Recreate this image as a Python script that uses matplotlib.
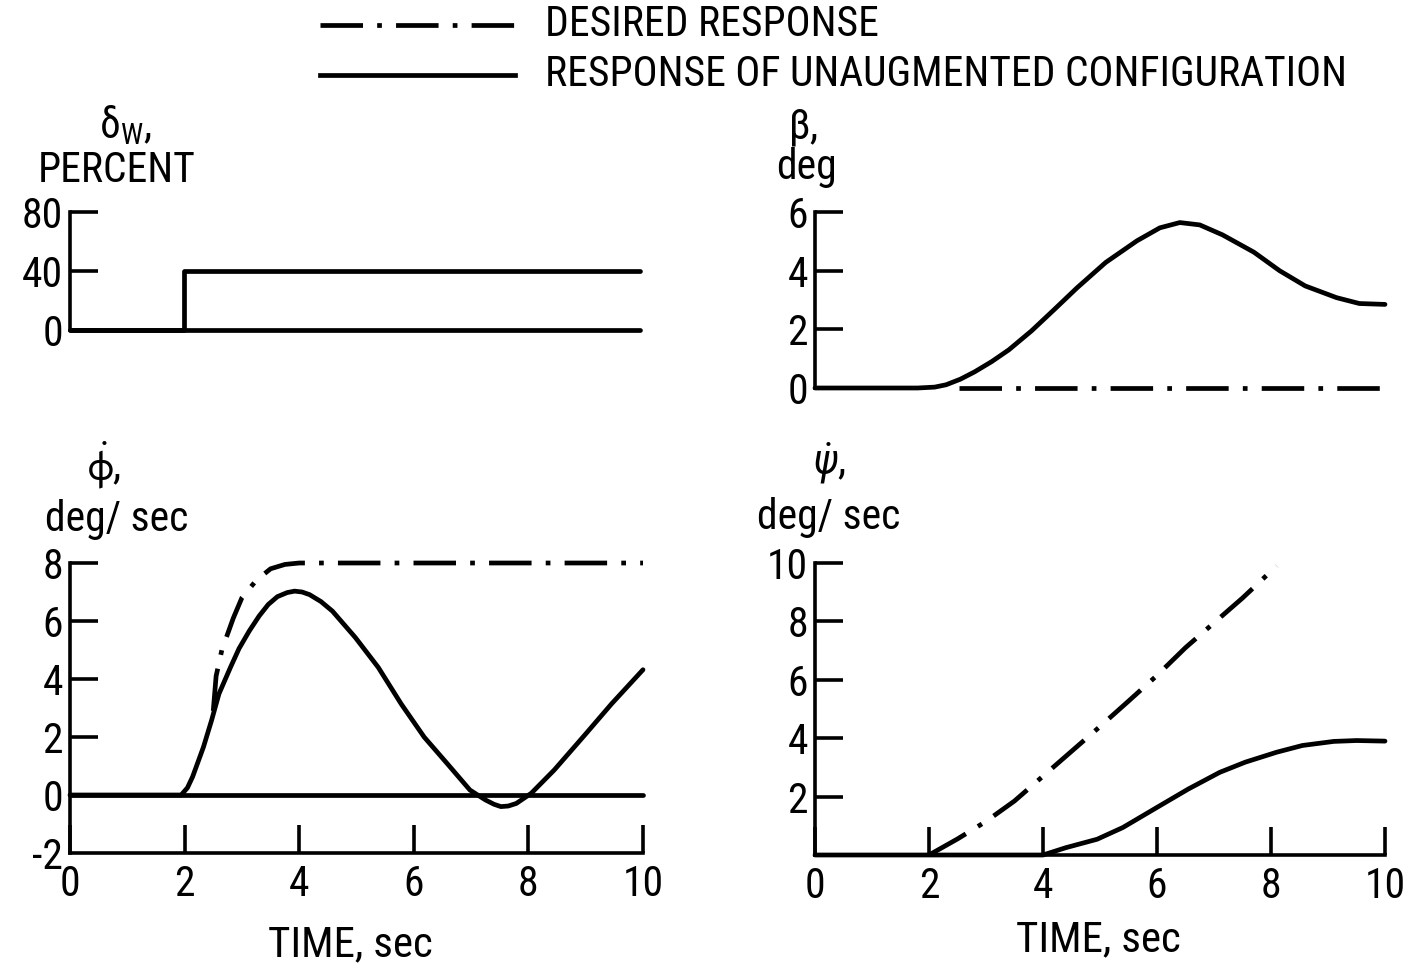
import matplotlib
matplotlib.use("Agg")
import matplotlib.pyplot as plt
from matplotlib.lines import Line2D

plt.rcParams["font.family"] = ["Roboto Condensed", "DejaVu Sans"]
plt.rcParams["mathtext.fontset"] = "custom"
plt.rcParams["mathtext.rm"] = "Roboto Condensed"
plt.rcParams["mathtext.it"] = "Roboto Condensed:italic"
plt.rcParams["mathtext.fallback"] = "stixsans"
plt.rcParams["axes.unicode_minus"] = False

# ---------------------------------------------------------------------
#  Time histories (time in sec)
# ---------------------------------------------------------------------

# wheel deflection, percent
t_dw = [0.0, 2.0, 2.0, 10.0]
dw = [0.0, 0.0, 40.0, 40.0]

# sideslip, deg
t_beta = [0.0, 1.8, 2.1, 2.3, 2.55, 2.8, 3.1, 3.4, 3.8, 4.2, 4.6, 5.1, 5.65,
          6.05, 6.4, 6.75, 7.15, 7.7, 8.15, 8.6, 9.15, 9.55, 10.0]
beta = [0.0, 0.0, 0.03, 0.11, 0.3, 0.55, 0.9, 1.3, 1.95, 2.68, 3.42, 4.28,
        5.02, 5.46, 5.64, 5.56, 5.22, 4.63, 4.0, 3.48, 3.08, 2.88, 2.85]
t_beta_des = [2.52, 10.0]
beta_des = [0.0, 0.0]

# roll rate, deg/sec
t_p = [0.0, 1.94, 2.05, 2.14, 2.33, 2.47, 2.6, 2.8, 2.95, 3.13, 3.3, 3.46,
       3.62, 3.79, 3.92, 4.05, 4.18, 4.38, 4.58, 4.98, 5.38, 5.78, 6.18,
       6.58, 6.98, 7.25, 7.4, 7.52, 7.65, 7.79, 8.05, 8.45, 8.98, 9.45, 10.0]
p = [0.0, 0.0, 0.25, 0.63, 1.66, 2.57, 3.49, 4.4, 5.05, 5.66, 6.17, 6.57,
     6.84, 6.98, 7.03, 7.0, 6.91, 6.67, 6.34, 5.43, 4.4, 3.14, 2.0, 1.09,
     0.17, -0.17, -0.32, -0.4, -0.38, -0.29, 0.06, 0.86, 2.06, 3.14, 4.32]
t_p_des = [2.5, 2.55, 2.65, 2.85, 3.0, 3.25, 3.5, 3.75, 4.0, 10.0]
p_des = [2.9, 4.1, 5.0, 6.1, 6.8, 7.4, 7.8, 7.95, 8.0, 8.0]

# yaw rate, deg/sec
t_r = [0.0, 4.0, 4.4, 4.95, 5.4, 6.0, 6.55, 7.1, 7.55, 8.1, 8.55, 9.1, 9.5, 10.0]
r = [0.0, 0.0, 0.25, 0.54, 0.94, 1.63, 2.26, 2.83, 3.18, 3.52, 3.75, 3.89,
     3.92, 3.9]
t_r_des = [2.0, 2.5, 3.0, 3.5, 4.0, 4.5, 5.0, 5.5, 6.0, 6.5, 7.0, 7.5, 8.1]
r_des = [0.0, 0.55, 1.15, 1.85, 2.7, 3.55, 4.4, 5.27, 6.15, 7.1, 7.95, 8.8, 9.9]

time_ticks = [0, 2, 4, 6, 8, 10]

LW = 3.4
SPINE_LW = 2.6
FS = 30
DASHDOT = (9, 3, 1, 3)

W, H = 1413, 969
fig = plt.figure(figsize=(W / 100, H / 100), dpi=100)


def px_axes(x0, x1, y_bot, y_top):
    """Axes placed by pixel coordinates of its data box."""
    return fig.add_axes([x0 / W, 1 - y_bot / H, (x1 - x0) / W, (y_bot - y_top) / H])


def fig_text(x_px, y_px, s, **kw):
    kw.setdefault("fontsize", FS)
    kw.setdefault("ha", "center")
    kw.setdefault("va", "center")
    return fig.text(x_px / W, 1 - y_px / H, s, **kw)


def style(ax, ylim, yticks, xaxis=False):
    ax.set_xlim(0, 10)
    ax.set_ylim(*ylim)
    for s in ["top", "right"]:
        ax.spines[s].set_visible(False)
    ax.spines["left"].set_linewidth(SPINE_LW)
    ax.spines["bottom"].set_linewidth(SPINE_LW)
    ax.spines["bottom"].set_visible(xaxis)
    ax.set_yticks(yticks)
    ax.tick_params(axis="y", direction="in", length=20, width=SPINE_LW,
                   labelsize=FS, pad=5)
    if xaxis:
        ax.set_xticks(time_ticks)
        ax.tick_params(axis="x", direction="in", length=20, width=SPINE_LW,
                       labelsize=FS, pad=8)
    else:
        ax.set_xticks([])
    ax.patch.set_alpha(0)


def curve(ax, t, y, dashed=False):
    ln, = ax.plot(t, y, color="black", lw=LW, clip_on=False,
                  solid_capstyle="round", solid_joinstyle="round")
    if dashed:
        ln.set_dashes(DASHDOT)
    return ln


# --- wheel deflection ---
ax1 = px_axes(70, 640, 330, 212)
style(ax1, (0, 80), [0, 40, 80])
curve(ax1, [0, 10], [0, 0])
curve(ax1, t_dw, dw)
fig_text(125, 125, r"$\mathrm{\delta_W}$,")
fig_text(117, 170, "PERCENT")

# --- sideslip ---
ax2 = px_axes(815, 1385, 388, 212)
style(ax2, (0, 6), [0, 2, 4, 6])
curve(ax2, t_beta, beta)
curve(ax2, t_beta_des, beta_des, dashed=True)
fig_text(803, 128, r"$\mathrm{\beta}$,")
fig_text(806, 168, "deg")

# --- roll rate ---
ax3 = px_axes(70, 643, 853, 563)
style(ax3, (-2, 8), [-2, 0, 2, 4, 6, 8], xaxis=True)
ax3.yaxis.get_major_ticks()[0].tick1line.set_visible(False)
curve(ax3, [0, 10], [0, 0])
curve(ax3, t_p, p)
curve(ax3, t_p_des, p_des, dashed=True)
fig_text(104, 465, r"$\dot{\mathrm{\phi}}$,")
fig_text(117, 520, "deg/ sec")
fig_text(350, 945, "TIME, sec", fontsize=FS + 1)

# --- yaw rate ---
ax4 = px_axes(815, 1385, 855, 563)
style(ax4, (0, 10), [2, 4, 6, 8, 10], xaxis=True)
curve(ax4, t_r, r)
curve(ax4, t_r_des, r_des, dashed=True)
fig_text(830, 463, r"$\dot{\psi}$,")
fig_text(829, 518, "deg/ sec")
fig_text(1098, 940, "TIME, sec", fontsize=FS + 1)

# --- key ---
for y_px, dashed, label in [(25, True, "DESIRED RESPONSE"),
                            (75, False, "RESPONSE OF UNAUGMENTED CONFIGURATION")]:
    ln = Line2D([320 / W, 515 / W], [1 - y_px / H] * 2, color="black", lw=LW,
                transform=fig.transFigure)
    if dashed:
        ln.set_dashes(DASHDOT)
    fig.add_artist(ln)
    fig_text(545, y_px, label, ha="left")

fig.savefig("out.png", dpi=100)
